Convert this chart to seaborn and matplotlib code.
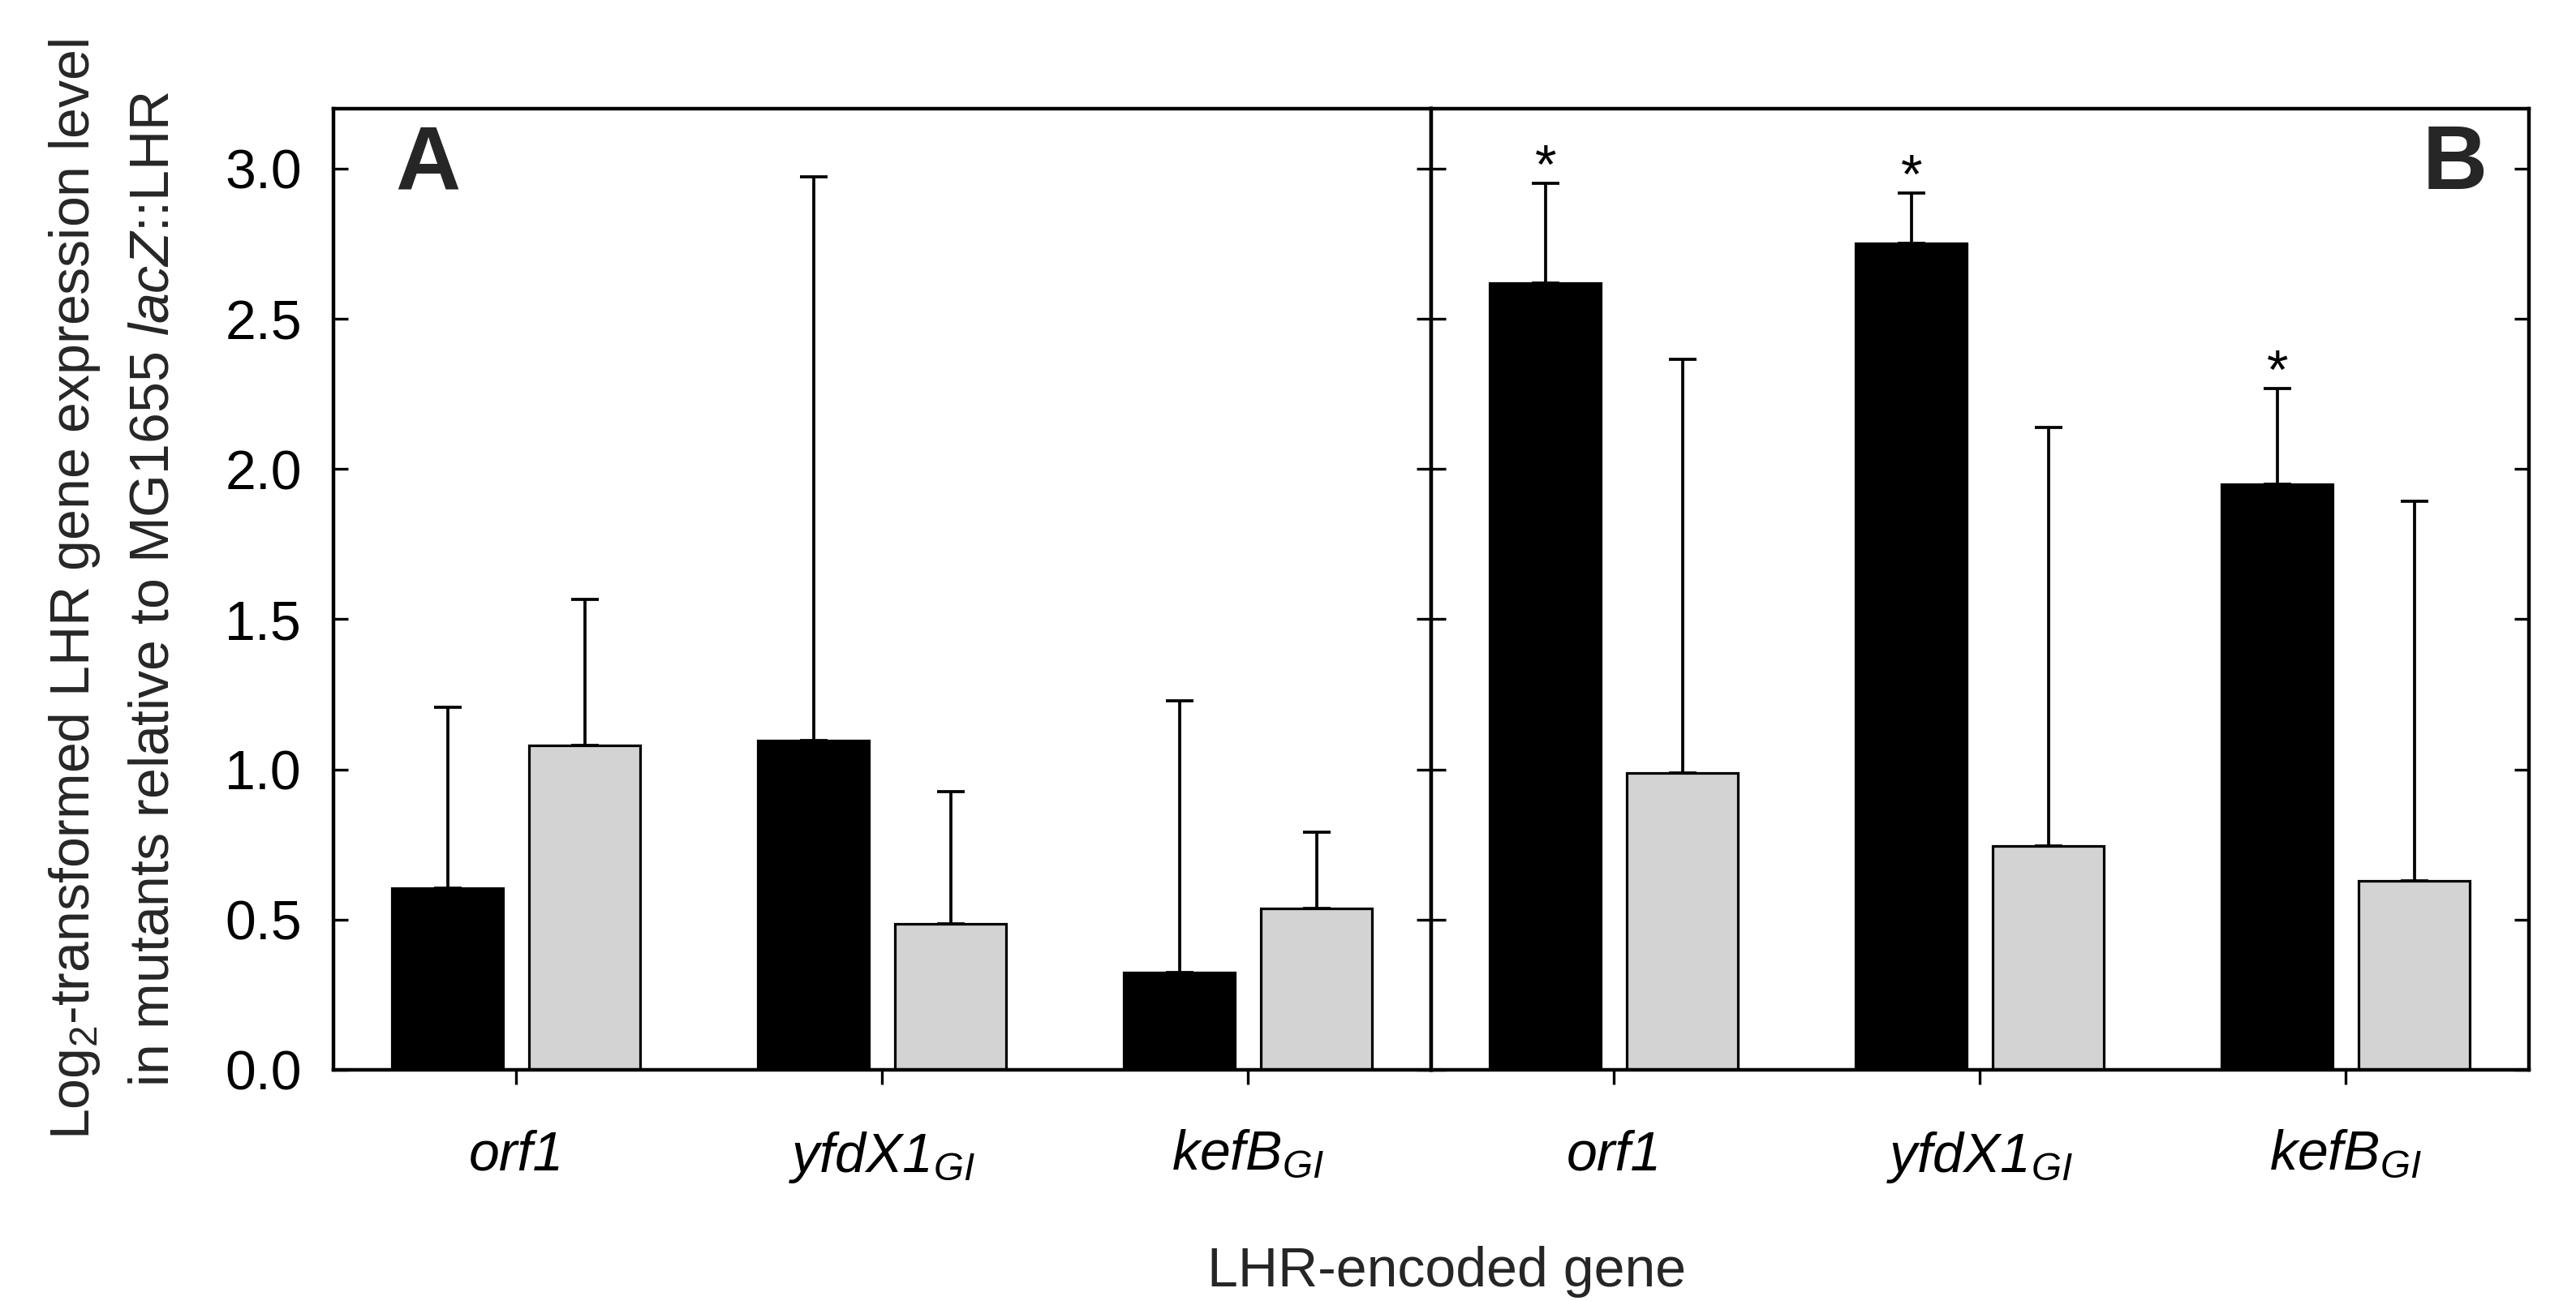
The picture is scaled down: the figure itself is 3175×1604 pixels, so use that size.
import numpy as np
import pandas as pd
import seaborn as sns
import matplotlib
matplotlib.use("Agg")
import matplotlib.pyplot as plt

# ---------------- data ----------------
genes = ["orf1", "yfdX1", "kefB"]
gene_labels = ["orf1", "yfdX1$_{GI}$", "kefB$_{GI}$"]
strains = ["Mutant 1", "Mutant 2"]
panels = ["A", "B"]

a_black_mean = [0.604, 1.096, 0.323]
a_black_err = [0.604, 1.876, 0.905]
a_gray_mean = [1.079, 0.486, 0.538]
a_gray_err = [0.488, 0.440, 0.254]

b_black_mean = [2.620, 2.751, 1.950]
b_black_err = [0.331, 0.167, 0.318]
b_gray_mean = [0.989, 0.745, 0.629]
b_gray_err = [1.377, 1.394, 1.263]

b_black_sig = [True, True, True]

yticks = [0.0, 0.5, 1.0, 1.5, 2.0, 2.5, 3.0]
ylabel = ("Log$_2$-transformed LHR gene expression level\n"
          "in mutants relative to MG1655 $\\mathit{lacZ}$::LHR")
xlabel = "LHR-encoded gene"

# ---------------- style ----------------
sns.set_style("white")
plt.rcParams["font.family"] = ["Liberation Sans", "DejaVu Sans"]
plt.rcParams["mathtext.fontset"] = "custom"
plt.rcParams["mathtext.rm"] = "Liberation Sans"
plt.rcParams["mathtext.it"] = "Liberation Sans:italic"
plt.rcParams["mathtext.bf"] = "Liberation Sans:bold"

FS = 24.5
SPINE_LW = 1.6
EDGE_LW = 1.15
ERR_LW = 1.35
TICK_LW = 1.2

rows = []
for panel, (bm, be, gm, ge) in zip(panels, [(a_black_mean, a_black_err, a_gray_mean, a_gray_err),
                                             (b_black_mean, b_black_err, b_gray_mean, b_gray_err)]):
    for g, m, e in zip(genes, bm, be):
        rows.append(dict(panel=panel, gene=g, strain=strains[0], mean=m, err=e))
    for g, m, e in zip(genes, gm, ge):
        rows.append(dict(panel=panel, gene=g, strain=strains[1], mean=m, err=e))
df = pd.DataFrame(rows)

fig, axes = plt.subplots(1, 2, figsize=(15.875, 8.02), dpi=200, sharey=True)
fig.subplots_adjust(left=0.1294, right=0.9817, top=0.9165, bottom=0.1777, wspace=0)

palette = {strains[0]: "black", strains[1]: "#d3d3d3"}

for ax, panel in zip(axes, panels):
    sub = df[df.panel == panel]
    sns.barplot(data=sub, x="gene", y="mean", hue="strain", order=genes,
                hue_order=strains, palette=palette, edgecolor="black",
                linewidth=EDGE_LW, width=0.75, gap=0.19, errorbar=None,
                legend=False, ax=ax, saturation=1)
    # error bars (upper only)
    for cont, strain in zip(ax.containers, strains):
        s = sub[sub.strain == strain].set_index("gene").loc[genes]
        xs = [p.get_x() + p.get_width() / 2 for p in cont.patches]
        ax.errorbar(xs, s["mean"].values,
                    yerr=[np.zeros(len(xs)), s["err"].values],
                    fmt="none", ecolor="black", elinewidth=ERR_LW,
                    capsize=6.2, capthick=ERR_LW, zorder=1)
        if panel == "B" and strain == strains[0]:
            for x, m, e, sig in zip(xs, s["mean"].values, s["err"].values, b_black_sig):
                if sig:
                    ax.text(x, m + e, "*", ha="center", va="baseline",
                            fontsize=FS, color="black")

    ax.set_xlim(-0.5, 2.5)
    ax.set_ylim(0, 3.2)
    ax.set_yticks(yticks)
    ax.set_yticklabels([f"{t:.1f}" for t in yticks])
    ax.set_xticks(range(len(genes)))
    ax.set_xticklabels(gene_labels, fontstyle="italic")
    ax.set_xlabel("")
    ax.set_ylabel("")
    for sp in ax.spines.values():
        sp.set_visible(True)
        sp.set_linewidth(SPINE_LW)
        sp.set_color("black")
    ax.tick_params(axis="y", direction="in", left=True, right=True,
                   length=6.5, width=TICK_LW, labelsize=FS, pad=14, colors="black")
    ax.tick_params(axis="x", direction="out", bottom=True, top=False,
                   length=6.5, width=TICK_LW, labelsize=FS, pad=20, colors="black")

axes[1].tick_params(axis="y", labelleft=False)

axes[0].text(0.0565, 0.916, "A", transform=axes[0].transAxes, ha="left",
             va="baseline", fontsize=40, fontweight="bold")
axes[1].text(0.962, 0.916, "B", transform=axes[1].transAxes, ha="right",
             va="baseline", fontsize=40, fontweight="bold")

axes[0].set_ylabel(ylabel, fontsize=FS, linespacing=1.62)
axes[0].yaxis.set_label_coords(-0.14, 0.5)

fig.text(1783 / 3175, 1 - 1586 / 1604, xlabel, ha="center", va="baseline",
         fontsize=FS)

fig.savefig("out.png", dpi=200, facecolor="white")
